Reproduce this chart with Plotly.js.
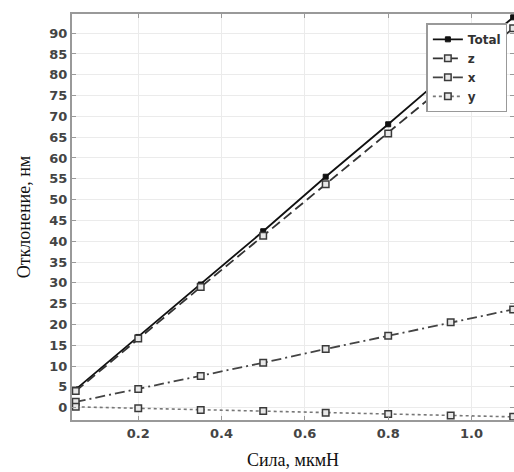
<!DOCTYPE html>
<html>
<head>
<meta charset="utf-8">
<script src="https://cdn.plot.ly/plotly-3.0.1.min.js"></script>
<style>html,body{margin:0;padding:0;background:#fff;}#chart{width:514px;height:472px;}</style>
</head>
<body>
<div id="chart"></div>
<script>
const force = [0.05, 0.2, 0.35, 0.5, 0.65, 0.8, 0.95, 1.1];
const totalDefl = [4.4, 17.0, 29.6, 42.4, 55.5, 68.1, 81.0, 93.8];
const zDefl = [4.0, 16.6, 29.0, 41.3, 53.7, 65.9, 78.5, 91.2];
const xDefl = [1.4, 4.5, 7.6, 10.8, 14.1, 17.3, 20.5, 23.6];
const yDefl = [0.2, -0.15, -0.55, -0.8, -1.2, -1.5, -1.9, -2.2];
const seriesNames = ['Total', 'z', 'x', 'y'];
const xTickVals = [0.2, 0.4, 0.6, 0.8, 1.0];
const xTickText = ['0.2', '0.4', '0.6', '0.8', '1.0'];
const yTickVals = [0, 5, 10, 15, 20, 25, 30, 35, 40, 45, 50, 55, 60, 65, 70, 75, 80, 85, 90];

const openMarker = {symbol: 'square', size: 6.5, color: '#e8e8e8', line: {color: '#3a3a3a', width: 1.5}};
const traces = [
  {x: force, y: totalDefl, name: seriesNames[0], mode: 'lines+markers',
   line: {color: '#111', width: 1.8, dash: 'solid'},
   marker: {symbol: 'square', size: 5, color: '#111', line: {color: '#111', width: 1}}},
  {x: force, y: zDefl, name: seriesNames[1], mode: 'lines+markers',
   line: {color: '#333', width: 1.8, dash: '10px,5px'}, marker: openMarker},
  {x: force, y: xDefl, name: seriesNames[2], mode: 'lines+markers',
   line: {color: '#444', width: 1.8, dash: '10px,4px,2px,4px'}, marker: openMarker},
  {x: force, y: yDefl, name: seriesNames[3], mode: 'lines+markers',
   line: {color: '#777', width: 1.6, dash: 'dot'}, marker: openMarker}
];

const tickFont = {family: 'DejaVu Sans', size: 13, color: '#444', weight: 'bold'};
const layout = {
  width: 514, height: 472,
  margin: {l: 72, r: 0, t: 14, b: 52},
  paper_bgcolor: '#fff', plot_bgcolor: '#fff',
  showlegend: true,
  legend: {x: 0.985, y: 0.977, xanchor: 'right', yanchor: 'top',
    bgcolor: '#fff', bordercolor: '#999', borderwidth: 1.5,
    font: {family: 'DejaVu Sans', size: 12, color: '#333', weight: 'bold'},
    itemwidth: 30, tracegroupgap: 0},
  xaxis: {
    range: [0.041, 1.102], tickvals: xTickVals, ticktext: xTickText,
    tickfont: tickFont, ticks: 'inside', ticklen: 4, tickcolor: '#999',
    showgrid: true, gridcolor: '#ebebeb', gridwidth: 1, zeroline: false,
    showline: true, linecolor: '#999', linewidth: 2, mirror: 'ticks',
    title: {text: 'Сила, мкмН', font: {family: 'Liberation Serif', size: 18, color: '#111'}, standoff: 14}
  },
  yaxis: {
    range: [-2.96, 94.6], tickvals: yTickVals,
    tickfont: tickFont, ticks: 'inside', ticklen: 4, tickcolor: '#999',
    showgrid: true, gridcolor: '#ebebeb', gridwidth: 1, zeroline: false,
    showline: true, linecolor: '#999', linewidth: 2, mirror: 'ticks',
    title: {text: 'Отклонение, нм', font: {family: 'Liberation Serif', size: 18, color: '#111'}, standoff: 14}
  }
};
Plotly.newPlot('chart', traces, layout, {displayModeBar: false, staticPlot: true});
</script>
</body>
</html>
